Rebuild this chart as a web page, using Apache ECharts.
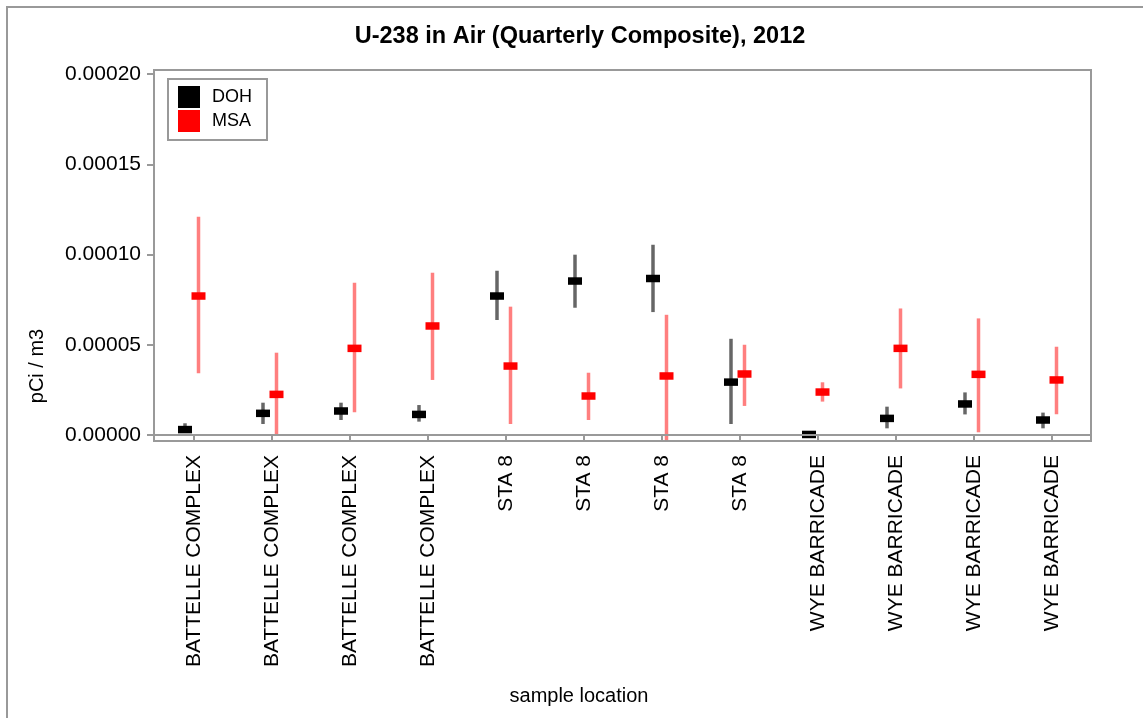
<!DOCTYPE html>
<html>
<head>
<meta charset="utf-8">
<title>U-238 in Air (Quarterly Composite), 2012</title>
<script src="https://cdn.jsdelivr.net/npm/echarts@6/dist/echarts.min.js"></script>
<style>
  html, body { margin: 0; padding: 0; background: #fff; }
  #chart { width: 1143px; height: 718px; }
</style>
</head>
<body>
<div id="chart"></div>
<script>
// Sample locations, one per quarterly composite
const categories = [
  'BATTELLE COMPLEX', 'BATTELLE COMPLEX', 'BATTELLE COMPLEX', 'BATTELLE COMPLEX',
  'STA 8', 'STA 8', 'STA 8', 'STA 8',
  'WYE BARRICADE', 'WYE BARRICADE', 'WYE BARRICADE', 'WYE BARRICADE'
];

// DOH results (pCi / m3) with lower / upper uncertainty limits
const dohValue = [0.0000030, 0.0000120, 0.0000133, 0.0000114, 0.0000770, 0.0000853, 0.0000867, 0.0000293, 0.0000003, 0.0000092, 0.0000172, 0.0000083];
const dohLow   = [0.0000012, 0.0000061, 0.0000083, 0.0000074, 0.0000637, 0.0000705, 0.0000681, 0.0000061, 0.0000000, 0.0000037, 0.0000114, 0.0000037];
const dohHigh  = [0.0000065, 0.0000179, 0.0000179, 0.0000166, 0.0000910, 0.0000999, 0.0001054, 0.0000533, 0.0000008, 0.0000157, 0.0000236, 0.0000124];

// MSA results (pCi / m3) with lower / upper uncertainty limits
const msaValue = [0.0000770, 0.0000225, 0.0000480, 0.0000604, 0.0000382, 0.0000216, 0.0000327, 0.0000338, 0.0000238, 0.0000480, 0.0000336, 0.0000305];
const msaLow   = [0.0000342, 0.0000000, 0.0000126, 0.0000305, 0.0000061, 0.0000083, -0.0000028, 0.0000161, 0.0000185, 0.0000258, 0.0000015, 0.0000115];
const msaHigh  = [0.0001209, 0.0000456, 0.0000843, 0.0000899, 0.0000711, 0.0000345, 0.0000666, 0.0000500, 0.0000292, 0.0000701, 0.0000646, 0.0000489];

// Value axis range and tick step
const yMin = 0;
const yMax = 0.0002;
const yStep = 0.00005;

const FONT = '"Liberation Sans", Arial, sans-serif';
const FRAME = '#999999';

// Error bar with a flat rectangular marker, nudged sideways per series
function errorSeries(name, color, barColor, values, lows, highs, dx) {
  return {
    type: 'custom',
    name: name,
    xAxisIndex: 1,
    yAxisIndex: 1,
    z: 3,
    itemStyle: { color: color },
    encode: { x: 0, y: 1 },
    data: values.map((v, i) => [i, v, lows[i], highs[i]]),
    renderItem: function (params, api) {
      const idx = api.value(0);
      const c = api.coord([idx, api.value(1)]);
      const lo = api.coord([idx, api.value(2)]);
      const hi = api.coord([idx, api.value(3)]);
      const x = c[0] + dx;
      return {
        type: 'group',
        children: [
          { type: 'line', shape: { x1: x, y1: lo[1], x2: x, y2: hi[1] },
            style: { stroke: barColor, lineWidth: 3.5 } },
          { type: 'rect', shape: { x: x - 7, y: c[1] - 3.75, width: 14, height: 7.5 },
            style: { fill: color } }
        ]
      };
    }
  };
}

const chart = echarts.init(document.getElementById('chart'), null, { renderer: 'canvas' });

chart.setOption({
  animation: false,
  backgroundColor: '#ffffff',
  textStyle: { fontFamily: FONT },
  graphic: [
    { type: 'rect', z: -10, silent: true,
      shape: { x: 7, y: 7, width: 1300, height: 900 },
      style: { fill: 'none', stroke: FRAME, lineWidth: 2 } },
    { type: 'text', x: 580, y: 37, silent: true,
      style: { text: 'U-238 in Air (Quarterly Composite), 2012', font: 'bold 23.5px ' + FONT,
               fill: '#000', align: 'center', verticalAlign: 'middle' } },
    { type: 'text', x: 37, y: 366, rotation: Math.PI / 2, silent: true,
      style: { text: 'pCi / m3', font: '20px ' + FONT,
               fill: '#000', align: 'center', verticalAlign: 'middle' } },
    { type: 'text', x: 579, y: 696, silent: true,
      style: { text: 'sample location', font: '20px ' + FONT,
               fill: '#000', align: 'center', verticalAlign: 'middle' } }
  ],
  legend: {
    left: 168, top: 79,
    orient: 'vertical',
    padding: [7, 15, 8, 10],
    itemGap: 2,
    itemWidth: 22, itemHeight: 22,
    borderColor: FRAME, borderWidth: 2,
    textStyle: { fontSize: 18, color: '#000', fontFamily: FONT, padding: [0, 0, 0, 7] },
    data: [{ name: 'DOH', icon: 'rect' }, { name: 'MSA', icon: 'rect' }]
  },
  grid: [
    // plot frame
    { left: 154, top: 70, width: 937, height: 371, show: true, borderColor: FRAME, borderWidth: 2, backgroundColor: 'transparent' },
    // data area
    { left: 155, top: 74, width: 936, height: 361 }
  ],
  xAxis: [
    { gridIndex: 0, type: 'category', data: categories, show: false },
    {
      gridIndex: 1, type: 'category', data: categories,
      offset: 6,
      axisLine: { show: false },
      axisTick: { show: true, alignWithLabel: true, length: 6, lineStyle: { color: FRAME, width: 2 } },
      axisLabel: { rotate: 90, margin: 14, fontSize: 21, color: '#000', fontFamily: FONT, interval: 0 },
      splitLine: { show: false }
    }
  ],
  yAxis: [
    { gridIndex: 0, type: 'value', show: false, min: 0, max: 1 },
    {
      gridIndex: 1, type: 'value', min: yMin, max: yMax, interval: yStep,
      axisLine: { show: false },
      axisTick: { show: true, length: 8, lineStyle: { color: FRAME, width: 2 } },
      axisLabel: { margin: 14, fontSize: 21, color: '#000', fontFamily: FONT,
                   formatter: v => v.toFixed(5) },
      splitLine: { show: false }
    }
  ],
  series: [
    {
      type: 'line', name: 'zero', xAxisIndex: 1, yAxisIndex: 1, data: [],
      z: 1, silent: true, legendHoverLink: false,
      markLine: {
        silent: true, symbol: 'none', label: { show: false },
        lineStyle: { color: FRAME, width: 2, type: 'solid' },
        data: [{ yAxis: 0 }]
      }
    },
    errorSeries('DOH', '#000000', 'rgba(0,0,0,0.6)', dohValue, dohLow, dohHigh, -9),
    errorSeries('MSA', '#ff0000', 'rgba(255,0,0,0.5)', msaValue, msaLow, msaHigh, 4.5)
  ]
});
</script>
</body>
</html>
